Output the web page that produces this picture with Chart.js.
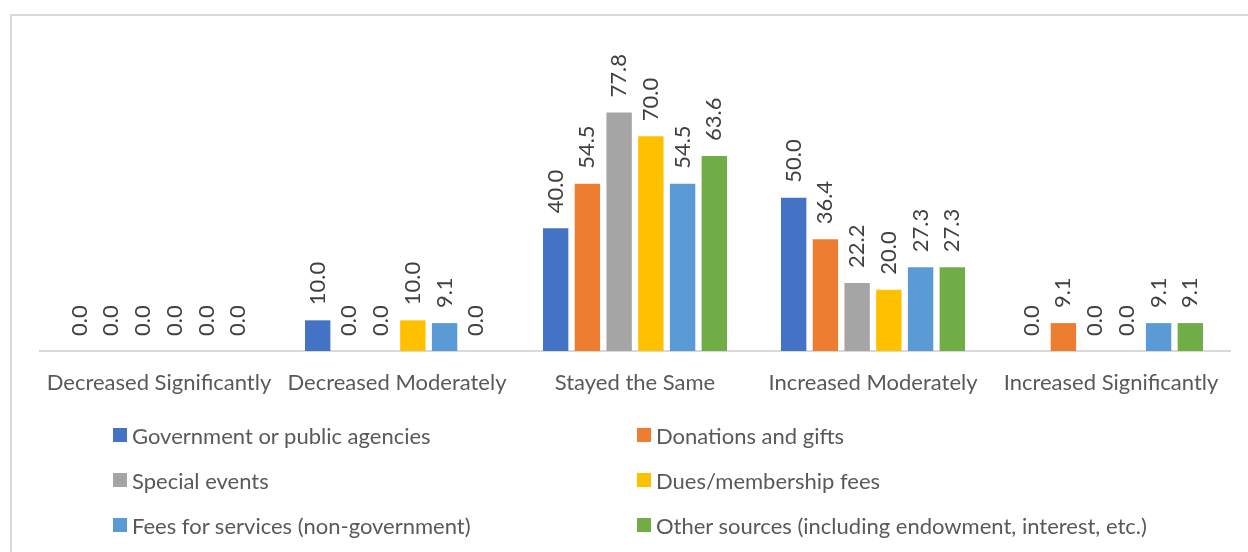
<!DOCTYPE html>
<html>
<head>
<meta charset="utf-8">
<script src="https://cdn.jsdelivr.net/npm/chart.js@4"></script>
<style>
  html, body { margin: 0; padding: 0; background: #fff; }
  #wrap { position: relative; width: 1248px; height: 552px; overflow: hidden; }
  #frame { position: absolute; left: 10px; top: 14px; width: 1300px; height: 600px;
           border-top: 2px solid #d9d9d9; border-left: 2px solid #d9d9d9; }
  #chart { position: absolute; left: 0; top: 0; }
  .lg { position: absolute; font: 22px Lato, sans-serif; color: #595959; white-space: nowrap; }
  .lg i { position: absolute; left: 0; top: 50%; width: 14px; height: 14px; margin-top: -7px; }
  .lg span { position: absolute; left: 19px; top: 50%; transform: translateY(-50%); }
</style>
</head>
<body>
<div id="wrap">
  <div id="frame"></div>
  <canvas id="chart" width="1248" height="552"></canvas>
</div>
<script>
// categories and series (percent)
const categories = ["Decreased Significantly", "Decreased Moderately", "Stayed the Same", "Increased Moderately", "Increased Significantly"];
const seriesNames = [
  "Government or public agencies",
  "Donations and gifts",
  "Special events",
  "Dues/membership fees",
  "Fees for services (non-government)",
  "Other sources (including endowment, interest, etc.)"
];
const government = [0, 10.0, 40.0, 50.0, 0];
const donations = [0, 0, 54.5, 36.4, 9.1];
const specialEvents = [0, 0, 77.8, 22.2, 0];
const dues = [0, 10.0, 70.0, 20.0, 0];
const feesServices = [0, 9.1, 54.5, 27.3, 9.1];
const otherSources = [0, 0, 63.6, 27.3, 9.1];

const colors = ["#4472C4", "#ED7D31", "#A5A5A5", "#FFC000", "#5B9BD5", "#70AD47"];
const allValues = [government, donations, specialEvents, dues, feesServices, otherSources];

// rotated value labels above each bar
const valueLabels = {
  id: "valueLabels",
  afterDatasetsDraw(chart) {
    const ctx = chart.ctx;
    ctx.save();
    ctx.font = "22px Lato, sans-serif";
    ctx.fillStyle = "#404040";
    ctx.textAlign = "left";
    ctx.textBaseline = "middle";
    chart.data.datasets.forEach((ds, i) => {
      chart.getDatasetMeta(i).data.forEach((bar, j) => {
        ctx.save();
        ctx.translate(bar.x, bar.y - 15);
        ctx.rotate(-Math.PI / 2);
        ctx.fillText(ds.data[j].toFixed(1), 0, 0);
        ctx.restore();
      });
    });
    ctx.restore();
  }
};

const chart = new Chart(document.getElementById("chart"), {
  type: "bar",
  data: {
    labels: categories,
    datasets: allValues.map((vals, i) => ({
      label: seriesNames[i],
      data: vals,
      backgroundColor: colors[i],
      categoryPercentage: 0.8,
      barPercentage: 0.8
    }))
  },
  options: {
    responsive: false,
    animation: false,
    layout: { padding: { left: 40, right: 18, top: 75, bottom: 0 } },
    plugins: { legend: { display: false }, tooltip: { enabled: false } },
    scales: {
      y: { display: false, min: 0, max: 90 },
      x: {
        grid: { display: false, drawTicks: false },
        border: { color: "#d9d9d9", width: 2 },
        ticks: { color: "#595959", font: { family: "Lato", size: 22 }, padding: 19, maxRotation: 0, autoSkip: false },
        afterFit(scale) { scale.height = 201; }
      }
    }
  },
  plugins: [valueLabels]
});

// legend in two columns, built from the series names and colours
const wrap = document.getElementById("wrap");
seriesNames.forEach((name, i) => {
  const d = document.createElement("div");
  d.className = "lg";
  d.style.left = (i % 2 === 0 ? 113 : 637) + "px";
  d.style.top = (435 + Math.floor(i / 2) * 45) + "px";
  d.innerHTML = '<i style="background:' + colors[i] + '"></i><span>' + name + '</span>';
  wrap.appendChild(d);
});
</script>
</body>
</html>
